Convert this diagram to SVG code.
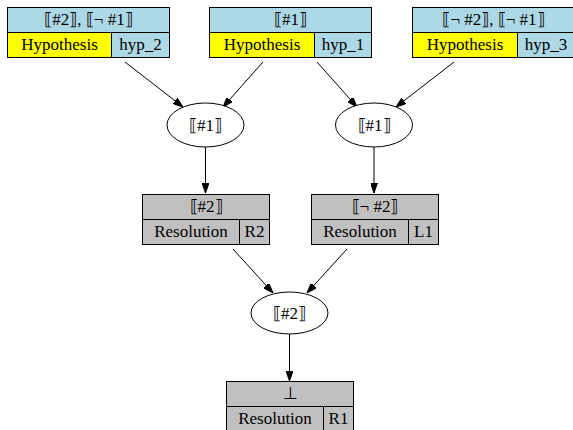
<svg xmlns="http://www.w3.org/2000/svg" width="573" height="430" viewBox="0 0 573 430">
<style>
.t{font-family:"Liberation Serif",serif;font-size:17px;text-anchor:middle}
.hdr{fill:#add8e6;stroke:#000;stroke-width:1}
.hyp{fill:#ffff00;stroke:#000;stroke-width:1}
.gry{fill:#c0c0c0;stroke:#000;stroke-width:1}
.ell{fill:#fff;stroke:#000;stroke-width:1}
.edge{stroke:#000;stroke-width:1;fill:none}
</style>
<defs>
<marker id="ah" markerWidth="10" markerHeight="7" refX="10" refY="3.5" orient="auto" markerUnits="userSpaceOnUse">
<path d="M0,0 L10,3.5 L0,7 Z" fill="#000" stroke="#000" stroke-width="1"/>
</marker>
</defs>
<rect width="573" height="430" fill="#fff"/>
<g id="edges">
<line class="edge" marker-end="url(#ah)" x1="125" y1="62" x2="183" y2="107"/>
<line class="edge" marker-end="url(#ah)" x1="263" y1="62" x2="223" y2="107"/>
<line class="edge" marker-end="url(#ah)" x1="317" y1="62" x2="357" y2="107"/>
<line class="edge" marker-end="url(#ah)" x1="454" y1="62" x2="396" y2="107"/>
<line class="edge" marker-end="url(#ah)" x1="205.5" y1="147" x2="205.5" y2="193"/>
<line class="edge" marker-end="url(#ah)" x1="374" y1="147" x2="374" y2="193"/>
<line class="edge" marker-end="url(#ah)" x1="233" y1="249" x2="273" y2="293"/>
<line class="edge" marker-end="url(#ah)" x1="347" y1="249" x2="307" y2="293"/>
<line class="edge" marker-end="url(#ah)" x1="289.5" y1="334" x2="289.5" y2="381"/>
</g>
<g id="hyp2">
<rect class="hdr" x="7.5" y="7.5" width="162" height="25"/>
<rect class="hyp" x="7.5" y="32.5" width="104" height="25"/>
<rect class="hdr" x="111.5" y="32.5" width="58" height="25"/>
<text class="t" x="88.5" y="25">⟦#2⟧, ⟦¬ #1⟧</text>
<text class="t" x="59.5" y="50">Hypothesis</text>
<text class="t" x="140.5" y="50">hyp_2</text>
</g>
<g id="hyp1">
<rect class="hdr" x="209.5" y="7.5" width="162" height="25"/>
<rect class="hyp" x="209.5" y="32.5" width="105" height="25"/>
<rect class="hdr" x="314.5" y="32.5" width="57" height="25"/>
<text class="t" x="290.5" y="25">⟦#1⟧</text>
<text class="t" x="262" y="50">Hypothesis</text>
<text class="t" x="343" y="50">hyp_1</text>
</g>
<g id="hyp3">
<rect class="hdr" x="412.5" y="7.5" width="162" height="25"/>
<rect class="hyp" x="412.5" y="32.5" width="105" height="25"/>
<rect class="hdr" x="517.5" y="32.5" width="57" height="25"/>
<text class="t" x="493.5" y="25">⟦¬ #2⟧, ⟦¬ #1⟧</text>
<text class="t" x="465" y="50">Hypothesis</text>
<text class="t" x="546" y="50">hyp_3</text>
</g>
<g id="e1">
<ellipse class="ell" cx="205.5" cy="125" rx="38.5" ry="22"/>
<text class="t" x="205.5" y="131">⟦#1⟧</text>
</g>
<g id="e2">
<ellipse class="ell" cx="374" cy="125" rx="38.5" ry="22"/>
<text class="t" x="374" y="131">⟦#1⟧</text>
</g>
<g id="r2">
<rect class="gry" x="142.5" y="194.5" width="127" height="25"/>
<rect class="gry" x="142.5" y="219.5" width="97" height="25"/>
<rect class="gry" x="239.5" y="219.5" width="30" height="25"/>
<text class="t" x="206" y="212">⟦#2⟧</text>
<text class="t" x="191" y="237">Resolution</text>
<text class="t" x="254.5" y="237">R2</text>
</g>
<g id="l1">
<rect class="gry" x="311.5" y="194.5" width="127" height="25"/>
<rect class="gry" x="311.5" y="219.5" width="97" height="25"/>
<rect class="gry" x="408.5" y="219.5" width="30" height="25"/>
<text class="t" x="375" y="212">⟦¬ #2⟧</text>
<text class="t" x="360" y="237">Resolution</text>
<text class="t" x="423.5" y="237">L1</text>
</g>
<g id="e3">
<ellipse class="ell" cx="289.5" cy="313" rx="38.5" ry="21"/>
<text class="t" x="289.5" y="319">⟦#2⟧</text>
</g>
<g id="r1">
<rect class="gry" x="226.5" y="381.5" width="127" height="25"/>
<rect class="gry" x="226.5" y="406.5" width="97" height="25"/>
<rect class="gry" x="323.5" y="406.5" width="30" height="25"/>
<text class="t" x="290" y="399">⊥</text>
<text class="t" x="275" y="424">Resolution</text>
<text class="t" x="338.5" y="424">R1</text>
</g>
</svg>
